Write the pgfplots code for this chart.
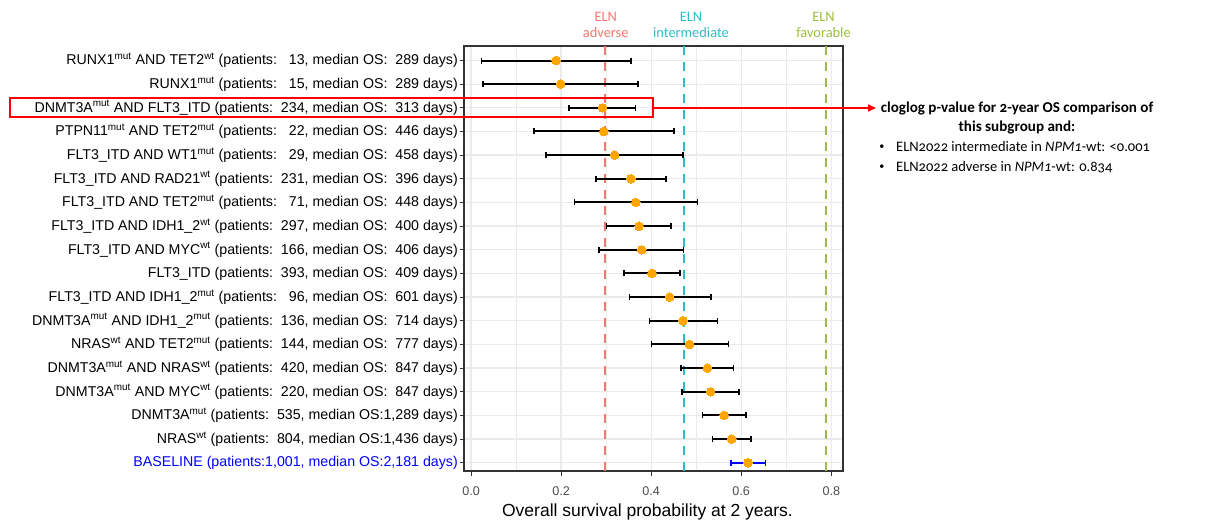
\documentclass[border=0pt]{standalone}
\usepackage{pgfplots}
\pgfplotsset{compat=1.18}
\usepackage{pgfplotstable}
\usepackage{fontspec}
\setmainfont{Liberation Sans}
\newfontfamily\notefont[Numbers=OldStyle]{Carlito}
\usetikzlibrary{arrows.meta}

\definecolor{frame}{HTML}{333333}
\definecolor{gridc}{HTML}{EBEBEB}
\definecolor{ticklab}{HTML}{4D4D4D}
\definecolor{ptorange}{HTML}{FFA500}
\definecolor{elnadv}{HTML}{F8766D}
\definecolor{elnint}{HTML}{2EBDC8}
\definecolor{elnfav}{HTML}{9CBE3A}

% row: position from the top; est: 2-year OS; lo/hi: confidence limits
\pgfplotstableread{
row est   lo    hi
1   0.189 0.023 0.355
2   0.199 0.027 0.371
3   0.292 0.217 0.365
4   0.295 0.140 0.450
5   0.319 0.167 0.471
6   0.355 0.278 0.433
7   0.366 0.230 0.503
8   0.373 0.301 0.444
9   0.379 0.284 0.472
10  0.402 0.340 0.464
11  0.441 0.352 0.533
12  0.471 0.396 0.547
13  0.485 0.401 0.572
14  0.525 0.467 0.583
15  0.532 0.469 0.595
16  0.562 0.514 0.611
17  0.579 0.536 0.622
}\subgroups
\pgfplotstableread{
row est   lo    hi
18  0.615 0.577 0.654
}\baseline

\newcommand{\mut}{\textsuperscript{mut}}
\newcommand{\wt}{\textsuperscript{wt}}

\begin{document}
\begin{tikzpicture}
\useasboundingbox (0,0) rectangle (1220bp,524bp);
\begin{axis}[
  at={(464bp,53bp)}, anchor=south west,
  scale only axis, width=379bp, height=425bp,
  xmin=-0.0156, xmax=0.826,
  ymin=0.387, ymax=18.35, y dir=reverse,
  xtick={0,0.2,0.4,0.6,0.8},
  xticklabels={0.0,0.2,0.4,0.6,0.8},
  minor xtick={0.1,0.3,0.5,0.7},
  ytick={1,...,18},
  yticklabels={
    {RUNX1\mut{} AND TET2\wt{} (patients:\ \ \ 13, median OS:\ \ 289 days)},
    {RUNX1\mut{} (patients:\ \ \ 15, median OS:\ \ 289 days)},
    {DNMT3A\mut{} AND FLT3\_ITD (patients:\ \ 234, median OS:\ \ 313 days)},
    {PTPN11\mut{} AND TET2\mut{} (patients:\ \ \ 22, median OS:\ \ 446 days)},
    {FLT3\_ITD AND WT1\mut{} (patients:\ \ \ 29, median OS:\ \ 458 days)},
    {FLT3\_ITD AND RAD21\wt{} (patients:\ \ 231, median OS:\ \ 396 days)},
    {FLT3\_ITD AND TET2\mut{} (patients:\ \ \ 71, median OS:\ \ 448 days)},
    {FLT3\_ITD AND IDH1\_2\wt{} (patients:\ \ 297, median OS:\ \ 400 days)},
    {FLT3\_ITD AND MYC\wt{} (patients:\ \ 166, median OS:\ \ 406 days)},
    {FLT3\_ITD (patients:\ \ 393, median OS:\ \ 409 days)},
    {FLT3\_ITD AND IDH1\_2\mut{} (patients:\ \ \ 96, median OS:\ \ 601 days)},
    {DNMT3A\mut{} AND IDH1\_2\mut{} (patients:\ \ 136, median OS:\ \ 714 days)},
    {NRAS\wt{} AND TET2\mut{} (patients:\ \ 144, median OS:\ \ 777 days)},
    {DNMT3A\mut{} AND NRAS\wt{} (patients:\ \ 420, median OS:\ \ 847 days)},
    {DNMT3A\mut{} AND MYC\wt{} (patients:\ \ 220, median OS:\ \ 847 days)},
    {DNMT3A\mut{} (patients:\ \ 535, median OS:1,289 days)},
    {NRAS\wt{} (patients:\ \ 804, median OS:1,436 days)},
    {\color{blue}BASELINE (patients:1,001, median OS:2,181 days)}
  },
  xmajorgrids, xminorgrids, ymajorgrids,
  major grid style={draw=gridc, line width=1.3bp},
  minor grid style={draw=gridc, line width=1.1bp},
  axis line style={draw=frame, line width=1.2bp},
  tick align=outside, xtick pos=bottom, ytick pos=left,
  major tick length=4.5bp, minor tick length=0pt,
  tick style={draw=frame, line width=1bp},
  yticklabel style={font=\fontsize{14.2bp}{16bp}\selectfont, text=black, inner sep=1.5bp},
  xticklabel style={font=\fontsize{12.6bp}{14bp}\selectfont, text=ticklab, inner sep=2bp, yshift=-9bp},
  xlabel={Overall survival probability at 2 years.},
  xlabel style={font=\fontsize{17.5bp}{20bp}\selectfont, at={(axis description cs:0.5,0)}, anchor=center, yshift=-40.7bp, xshift=-6bp},
  clip=false,
]
% ELN reference levels
\addplot[elnadv, line width=2bp, dash pattern=on 9bp off 7bp, forget plot] coordinates {(0.297,0.387) (0.297,18.35)};
\addplot[elnint, line width=2bp, dash pattern=on 9bp off 7bp, forget plot] coordinates {(0.473,0.387) (0.473,18.35)};
\addplot[elnfav, line width=2.2bp, dash pattern=on 9bp off 7bp, forget plot] coordinates {(0.788,0.387) (0.788,18.35)};
% point estimates with confidence intervals
\addplot[only marks, mark=*, mark size=4.3bp, mark options={fill=ptorange, draw=ptorange, line width=0pt}, forget plot,
  error bars/.cd, x dir=both, x explicit, error mark=|,
  error bar style={draw=black, line width=2bp},
  error mark options={draw=black, line width=1.7bp, mark size=3bp}]
  table[x=est, y=row,
        x error plus expr=\thisrow{hi}-\thisrow{est},
        x error minus expr=\thisrow{est}-\thisrow{lo}] {\subgroups};
\addplot[only marks, mark=*, mark size=4.3bp, mark options={fill=ptorange, draw=ptorange, line width=0pt}, forget plot,
  error bars/.cd, x dir=both, x explicit, error mark=|,
  error bar style={draw=blue, line width=2bp},
  error mark options={draw=blue, line width=1.7bp, mark size=3bp}]
  table[x=est, y=row,
        x error plus expr=\thisrow{hi}-\thisrow{est},
        x error minus expr=\thisrow{est}-\thisrow{lo}] {\baseline};
\end{axis}

% ELN headers
\begin{scope}[font=\notefont\fontsize{14.4bp}{16.5bp}\selectfont, align=center]
\node[text=elnadv] at (605.7bp,499bp) {ELN\\adverse};
\node[text=elnint] at (691bp,499bp) {ELN\\intermediate};
\node[text=elnfav] at (823.5bp,499bp) {ELN\\favorable};
\end{scope}

% highlighted subgroup and note
\draw[red, line width=2bp] (10bp,406.7bp) rectangle (653bp,426.3bp);
\draw[red, line width=1.6bp, -{Triangle[length=8bp,width=7bp]}] (653bp,416bp) -- (876bp,416bp);
\begin{scope}[font=\notefont\fontsize{14.5bp}{16bp}\selectfont]
\node[font=\notefont\bfseries\fontsize{15.1bp}{16bp}\selectfont, anchor=center] at (1017bp,416bp) {cloglog p-value for 2-year OS comparison of};
\node[font=\notefont\bfseries\fontsize{15.1bp}{16bp}\selectfont, anchor=center] at (1017bp,396.5bp) {this subgroup and:};
\node[anchor=center, inner sep=0pt] at (882bp,377.3bp) {\scalebox{0.7}{•}};
\node[anchor=west, inner sep=0pt] at (896bp,377.3bp) {ELN2022 intermediate in \textit{NPM1}-wt: <0.001};
\node[anchor=center, inner sep=0pt] at (882bp,357bp) {\scalebox{0.7}{•}};
\node[anchor=west, inner sep=0pt] at (896bp,357bp) {ELN2022 adverse in \textit{NPM1}-wt: 0.834};
\end{scope}
\end{tikzpicture}
\end{document}
